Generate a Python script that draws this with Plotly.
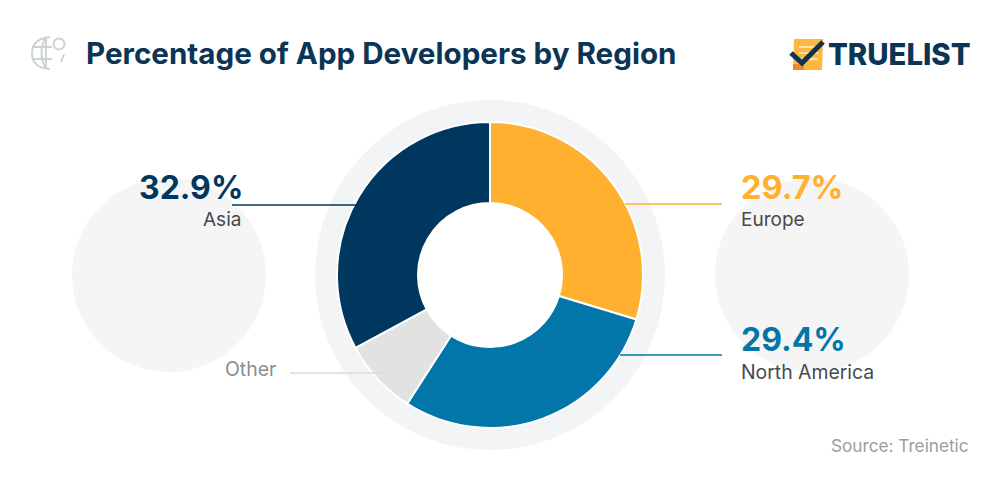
import plotly.graph_objects as go

W, H = 1000, 478
regions = ["Europe", "North America", "Other", "Asia"]
shares = [29.7, 29.4, 8.0, 32.9]
slice_colors = ["#FFB02E", "#0276A8", "#E1E2E2", "#00375F"]
NAVY = "#0C3455"
FONT = "Inter"

def px(x): return x / W
def py(y): return 1 - y / H

def circle(cx, cy, r, fill="#F4F5F5", line=None, width=0):
    return dict(type="circle", xref="paper", yref="paper", layer="below",
                x0=px(cx - r), x1=px(cx + r), y0=py(cy + r), y1=py(cy - r),
                fillcolor=fill, line=dict(color=line or "rgba(0,0,0,0)", width=width))

def seg(x0, y0, x1, y1, color, width=1.5):
    return dict(type="line", xref="paper", yref="paper", layer="above",
                x0=px(x0), x1=px(x1), y0=py(y0), y1=py(y1),
                line=dict(color=color, width=width))

def poly(points, fill=None, line=None, width=0, close=True):
    d = "M" + " L".join(f"{px(x):.5f},{py(y):.5f}" for x, y in points) + (" Z" if close else "")
    return dict(type="path", xref="paper", yref="paper", layer="above", path=d,
                fillcolor=fill or "rgba(0,0,0,0)",
                line=dict(color=line or "rgba(0,0,0,0)", width=width))

def note(x, y, text, size, color, anchor="left", weight=400):
    return dict(xref="paper", yref="paper", x=px(x), y=py(y), text=text, showarrow=False,
                xanchor=anchor, yanchor="middle",
                font=dict(family=FONT, size=size, color=color, weight=weight))

GREY = "#CDD2D5"
shapes = [
    circle(490, 275, 175, "#F3F4F5"),
    circle(490, 275, 72, "#FFFFFF"),
    circle(169, 275, 97, "#F5F5F5"),
    circle(812, 275, 97, "#F5F5F5"),
    seg(232, 205, 358, 205, "#00375F"),
    seg(625, 204, 722, 204, "#FFB02E"),
    seg(620, 355, 722, 355, "#0276A8"),
    seg(290, 373, 385, 373, "#DADCDC"),
    # globe icon
    dict(type="path", xref="paper", yref="paper", layer="above",
         path=f"M{px(50):.5f},{py(37):.5f} Q{px(32):.5f},{py(39):.5f} {px(32):.5f},{py(53):.5f} "
              f"Q{px(32):.5f},{py(68):.5f} {px(50):.5f},{py(69):.5f}",
         line=dict(color=GREY, width=2)),
    dict(type="path", xref="paper", yref="paper", layer="above",
         path=f"M{px(46):.5f},{py(37):.5f} Q{px(37):.5f},{py(53):.5f} {px(46):.5f},{py(69):.5f}",
         line=dict(color=GREY, width=2)),
    seg(46, 37, 46, 69, GREY, 2),
    seg(33, 47, 52, 47, GREY, 2),
    seg(33, 59, 52, 59, GREY, 2),
    circle(59, 44, 5.5, "rgba(0,0,0,0)", GREY, 2) | {"layer": "above"},
    seg(64, 54, 61, 62, GREY, 2),
    # logo
    poly([(794, 39), (823, 39), (822, 70), (793, 70)], "#FFB83F"),
    seg(799, 47, 818, 47, "#FFE3A8", 2),
    seg(799, 53, 818, 53, "#FFE3A8", 2),
    seg(799, 59, 818, 59, "#FFE3A8", 2),
    poly([(793, 64), (804, 64), (804, 70), (793, 70)], "#F08A24"),
    poly([(791, 53), (802, 63), (823, 42)], None, "#0C3455", 5, close=False),
]

annotations = [
    note(84, 53, "Percentage of App Developers by Region", 29.6, NAVY, weight=700),
    note(826, 54, "TRUELIST", 29.3, NAVY, weight=800),
    note(245, 187, "32.9%", 32, "#00375F", "right", 700),
    note(243, 219, "Asia", 19, "#444B50", "right"),
    note(739, 187, "29.7%", 32.5, "#FFB02E", "left", 700),
    note(739, 219, "Europe", 19, "#444B50"),
    note(739, 339, "29.4%", 32, "#0276A8", "left", 700),
    note(739, 372, "North America", 19.4, "#444B50"),
    note(278, 369, "Other", 19.4, "#8A8F92", "right"),
    note(971, 445, "Source: Treinetic", 17.2, "#9A9EA1", "right"),
]

fig = go.Figure(go.Pie(
    labels=regions, values=shares, sort=False, direction="clockwise", rotation=0,
    hole=72 / 153, textinfo="none", showlegend=False,
    marker=dict(colors=slice_colors, line=dict(color="#FFFFFF", width=2)),
    domain=dict(x=[px(337), px(643)], y=[py(428), py(122)]),
))
fig.update_layout(width=W, height=H, margin=dict(l=0, r=0, t=0, b=0),
                  paper_bgcolor="white", plot_bgcolor="white",
                  shapes=shapes, annotations=annotations)
fig.write_html("out.html", config={"displayModeBar": False},
               post_script="document.body.style.margin='0';document.body.style.overflow='hidden';")
